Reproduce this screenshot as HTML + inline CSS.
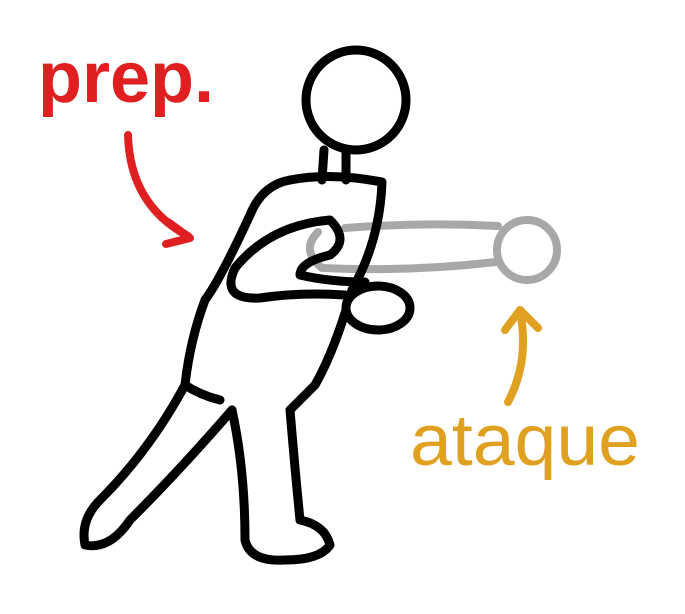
<!DOCTYPE html>
<html><head><meta charset="utf-8"><style>
html,body{margin:0;padding:0;background:#fff;}
svg{display:block}
</style></head><body>
<svg width="685" height="614" viewBox="0 0 685 614" xmlns="http://www.w3.org/2000/svg">
<rect width="685" height="614" fill="#fff"/>
<g fill="none" stroke="#a8a8a8" stroke-width="8" stroke-linecap="round" stroke-linejoin="round">
  <path d="M345,228 Q420,222 498,226 M318,232 Q300,250 322,268 Q410,272 496,262"/>
  <circle cx="527" cy="250" r="30"/>
</g>
<g fill="none" stroke="#000" stroke-width="9" stroke-linecap="round" stroke-linejoin="round">
  <ellipse cx="356" cy="100" rx="50" ry="50" fill="#fff"/>
  <path d="M324,150 L322,180 M346,150 L346,180"/>
  <path d="M290,180 Q330,172 382,182 Q380,240 352,290 Q335,350 315,385 Q300,400 290,410"/>
  <path d="M290,180 Q262,185 250,215 Q220,280 205,300 Q190,340 185,385 Q200,395 220,400"/>
  <path d="M235,268 Q270,225 330,220 Q350,240 330,255 Q300,262 300,275 Q330,282 365,282 M235,268 Q220,300 260,298 Q300,292 345,295"/>
  <ellipse cx="378" cy="308" rx="32" ry="22" fill="#fff"/>
  <path d="M185,385 Q150,450 100,500 Q80,520 85,545 Q110,550 130,520 Q180,470 232,410"/>
  <path d="M232,410 Q245,470 245,540 Q250,562 285,560 Q320,560 330,545 Q325,525 300,520 Q295,470 290,410"/>
</g>
<g>
  <text x="38" y="102" font-family="Liberation Sans, sans-serif" font-size="72" font-weight="bold" fill="#e02020">prep.</text>
  <path d="M128,135 Q130,205 188,236" fill="none" stroke="#e02020" stroke-width="8" stroke-linecap="round"/>
  <path d="M168,222 L190,238 L166,244" fill="none" stroke="#e02020" stroke-width="8" stroke-linecap="round" stroke-linejoin="round"/>
</g>
<g>
  <text x="410" y="465" font-family="Liberation Sans, sans-serif" font-size="72" textLength="230" lengthAdjust="spacingAndGlyphs" fill="#e0a020">ataque</text>
  <path d="M508,402 Q530,360 520,312" fill="none" stroke="#e0a020" stroke-width="8" stroke-linecap="round"/>
  <path d="M505,330 L520,310 L538,328" fill="none" stroke="#e0a020" stroke-width="8" stroke-linecap="round" stroke-linejoin="round"/>
</g>
</svg>
</body></html>
